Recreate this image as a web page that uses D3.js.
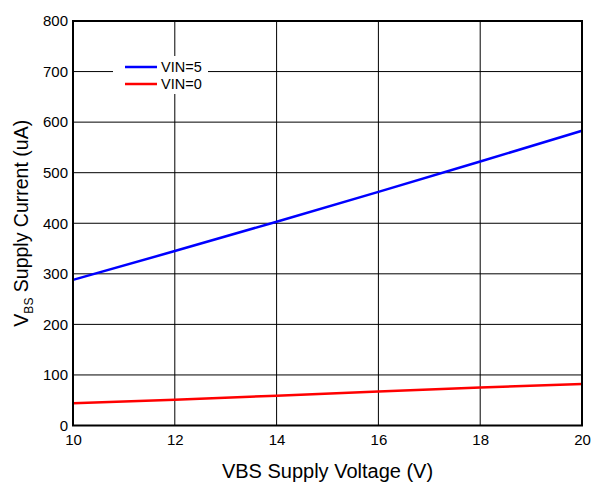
<!DOCTYPE html>
<html><head><meta charset="utf-8">
<script src="https://cdn.jsdelivr.net/npm/d3@7"></script>
<style>body{margin:0;background:#fff}svg{display:block;font-family:"Liberation Sans",Arial,sans-serif}</style>
</head><body><svg id="c" width="602" height="486"></svg>
<script>
const voltages = [10, 12, 14, 16, 18, 20];
const vin5 = [288, 345, 403, 462, 522, 583];
const vin0 = [44, 51, 59, 67, 75, 82];
const xTicks = [10, 12, 14, 16, 18, 20];
const yTicks = [0, 100, 200, 300, 400, 500, 600, 700, 800];
const seriesNames = ["VIN=5", "VIN=0"];
const seriesColors = ["#0000ff", "#ff0000"];

const svg = d3.select("#c");
const L = 73, R = 582, T = 21, B = 425.5;
const x = d3.scaleLinear().domain([10, 20]).range([L, R]);
const y = d3.scaleLinear().domain([0, 800]).range([B, T]);

// grid
svg.append("g").selectAll("line").data(xTicks).join("line")
  .attr("x1", d => x(d)).attr("x2", d => x(d)).attr("y1", T).attr("y2", B)
  .attr("stroke", "#000").attr("stroke-width", 1);
svg.append("g").selectAll("line").data(yTicks).join("line")
  .attr("x1", L).attr("x2", R).attr("y1", d => y(d)).attr("y2", d => y(d))
  .attr("stroke", "#000").attr("stroke-width", 1);

// legend background
svg.append("rect").attr("x", 113).attr("y", 56).attr("width", 95).attr("height", 38).attr("fill", "#fff");

// lines
const line = d3.line().x((d, i) => x(voltages[i])).y(d => y(d));
[vin5, vin0].forEach((s, i) => {
  svg.append("path").datum(s).attr("d", line).attr("fill", "none")
    .attr("stroke", seriesColors[i]).attr("stroke-width", 2.5);
});

// frame
svg.append("rect").attr("x", L).attr("y", T).attr("width", R - L).attr("height", B - T)
  .attr("fill", "none").attr("stroke", "#000").attr("stroke-width", 2);

// axes labels
const xa = svg.append("g").attr("transform", `translate(0,${B})`)
  .call(d3.axisBottom(x).tickValues(xTicks).tickSize(0).tickPadding(9).tickFormat(d3.format("d")));
xa.select(".domain").remove();
xa.selectAll("text").attr("font-size", 15).attr("fill", "#000").attr("font-family", "Liberation Sans, Arial, sans-serif");
const ya = svg.append("g").attr("transform", `translate(${L},0)`)
  .call(d3.axisLeft(y).tickValues(yTicks).tickSize(0).tickPadding(5).tickFormat(d3.format("d")));
ya.select(".domain").remove();
ya.selectAll("text").attr("font-size", 15).attr("fill", "#000").attr("font-family", "Liberation Sans, Arial, sans-serif");

// legend
seriesNames.forEach((n, i) => {
  const ly = 67 + i * 17;
  svg.append("line").attr("x1", 125).attr("x2", 157).attr("y1", ly).attr("y2", ly)
    .attr("stroke", seriesColors[i]).attr("stroke-width", 2.5);
  svg.append("text").attr("x", 161).attr("y", ly + 5).attr("font-size", 14.5).text(n);
});

// titles
svg.append("text").attr("x", (L + R) / 2).attr("y", 478).attr("text-anchor", "middle")
  .attr("font-size", 20).text("VBS Supply Voltage (V)");
const yt = svg.append("text").attr("transform", `translate(28,${(T + B) / 2}) rotate(-90)`)
  .attr("text-anchor", "middle").attr("font-size", 19.5);
yt.append("tspan").text("V");
yt.append("tspan").attr("font-size", 12).attr("dy", 5).text("BS");
yt.append("tspan").attr("dy", -5).text(" Supply Current (uA)");
</script></body></html>
